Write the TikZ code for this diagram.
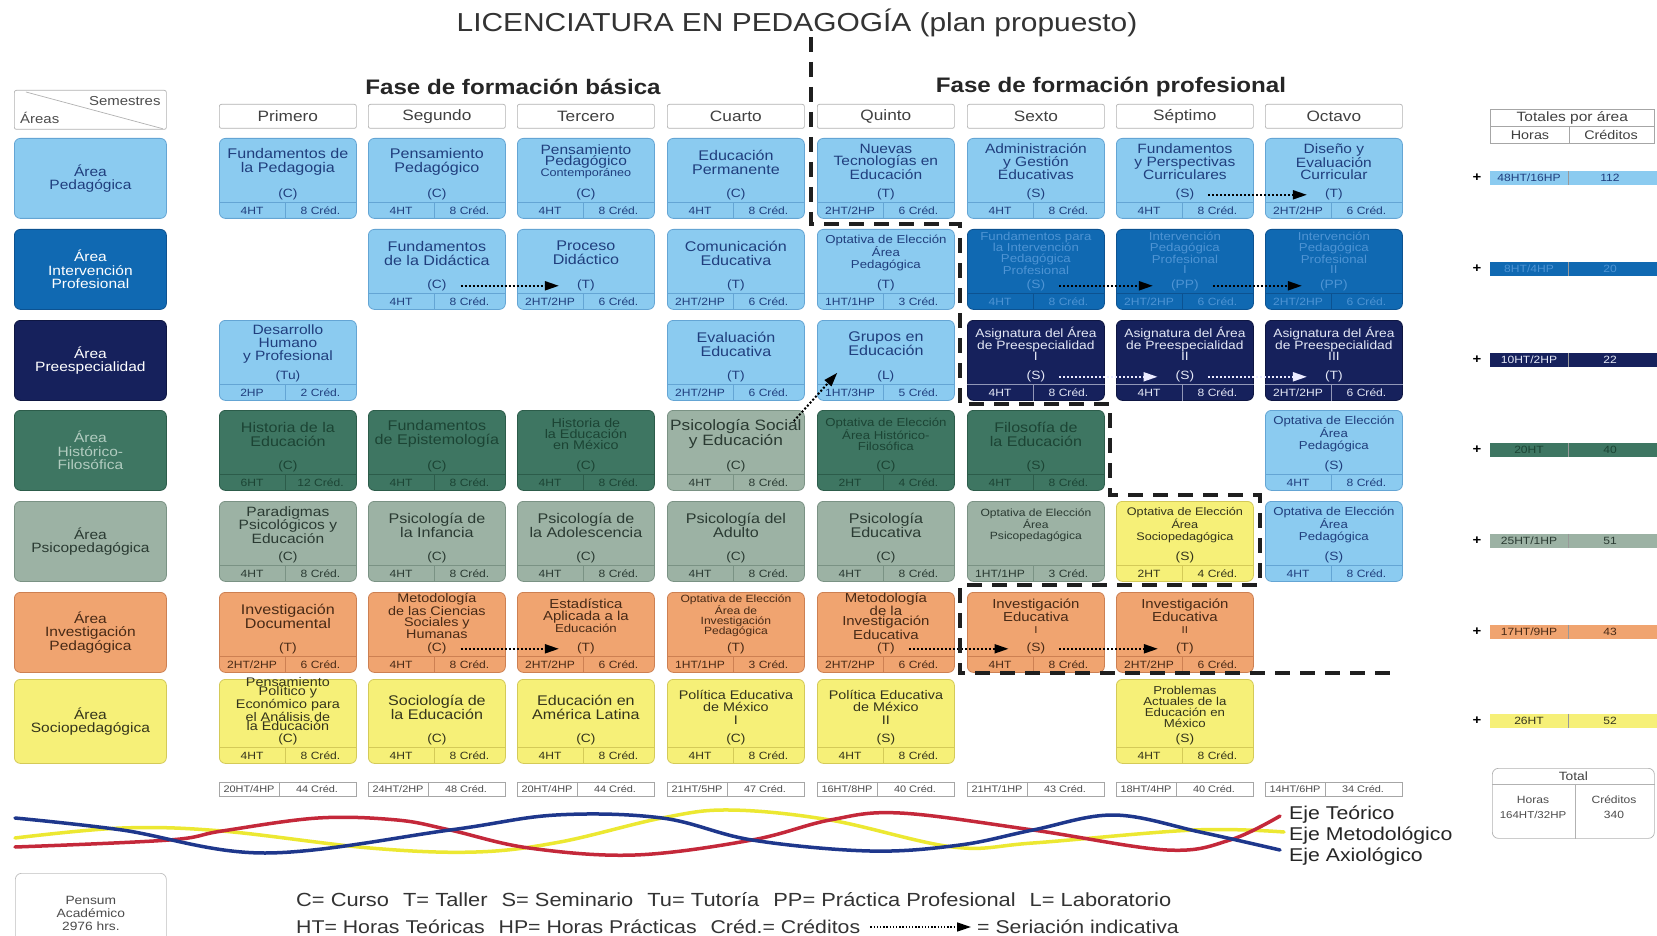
\documentclass[tikz,border=0pt]{standalone}
\usepackage{fontspec}
\setmainfont{Liberation Sans}[FakeStretch=1.15]
\usetikzlibrary{arrows.meta}
\newcommand\fs[2]{\fontsize{#1}{#2}\selectfont}
\definecolor{cped}{RGB}{139,203,240}
\definecolor{cpedD}{RGB}{100,165,212}
\definecolor{tped}{RGB}{32,62,125}
\definecolor{cint}{RGB}{16,105,178}
\definecolor{cintD}{RGB}{12,82,145}
\definecolor{tint}{RGB}{78,148,212}
\definecolor{cpre}{RGB}{22,33,92}
\definecolor{cpreD}{RGB}{14,22,66}
\definecolor{tpre}{RGB}{228,232,246}
\definecolor{chis}{RGB}{62,118,98}
\definecolor{chisD}{RGB}{44,92,74}
\definecolor{thisc}{RGB}{28,68,52}
\definecolor{hisA}{RGB}{178,204,192}
\definecolor{cpsi}{RGB}{156,178,164}
\definecolor{cpsiD}{RGB}{122,146,132}
\definecolor{tpsi}{RGB}{42,58,50}
\definecolor{cinv}{RGB}{240,164,112}
\definecolor{cinvD}{RGB}{205,128,82}
\definecolor{tinv}{RGB}{72,42,22}
\definecolor{csoc}{RGB}{246,240,120}
\definecolor{csocD}{RGB}{212,202,88}
\definecolor{tsoc}{RGB}{52,52,28}
\definecolor{wblue}{RGB}{30,55,140}
\definecolor{wred}{RGB}{196,40,58}
\definecolor{wyel}{RGB}{236,232,50}
\def\boxh{80}
\def\ttly{24}
\tikzset{
  cbox/.style={rounded corners=6pt, line width=0.8pt, minimum width=137pt, minimum height=\boxh pt, anchor=north west, inner sep=0pt},
  ttl/.style={align=center, inner sep=1pt},
  typ/.style={font=\fs{12}{12}, inner sep=1pt},
  hrs/.style={font=\fs{10.5}{10.5}, inner sep=0pt},
  area/.style={rounded corners=6pt, line width=0.8pt, minimum width=152pt, minimum height=80pt, anchor=north west, align=center, font=\fs{13.5}{13.5}, inner sep=1pt},
  ped/.style={fill=cped, draw=cpedD}, pedt/.style={text=tped}, pedl/.style={draw=cpedD, line width=0.8pt},
  int/.style={fill=cint, draw=cintD}, intt/.style={text=tint}, intl/.style={draw=cintD, line width=0.8pt},
  pre/.style={fill=cpre, draw=cpreD}, pret/.style={text=tpre}, prel/.style={draw=tpre!60!cpre, line width=0.8pt},
  his/.style={fill=chis, draw=chisD}, hist/.style={text=thisc}, hisl/.style={draw=chisD, line width=0.8pt},
  psi/.style={fill=cpsi, draw=cpsiD}, psit/.style={text=tpsi}, psil/.style={draw=cpsiD, line width=0.8pt},
  inv/.style={fill=cinv, draw=cinvD}, invt/.style={text=tinv}, invl/.style={draw=cinvD, line width=0.8pt},
  soc/.style={fill=csoc, draw=csocD}, soct/.style={text=tsoc}, socl/.style={draw=csocD, line width=0.8pt},
  sem/.style={draw=black!30, line width=0.7pt, rounded corners=2pt, minimum width=137pt, minimum height=24pt, anchor=north west, font=\fs{15}{15}, text=black!75, inner sep=0pt},
  stb/.style={draw=black!35, line width=0.6pt, minimum width=137pt, minimum height=14pt, anchor=north west, inner sep=0pt},
  stt/.style={font=\fs{9.5}{9.5}, text=black!70, inner sep=0pt},
  bar/.style={minimum width=170pt, minimum height=14pt, anchor=west, inner sep=0pt, draw=none},
  bart/.style={font=\fs{10.5}{10.5}, inner sep=0pt},
  ser/.style={line width=2pt, dash pattern=on 2pt off 2pt, -{Triangle[length=14pt,width=9pt]}, black},
  serx/.style={ser, shorten <=13pt, shorten >=17pt},
  serw/.style={serx, white!92!blue},
  sepline/.style={line width=3.5pt, dash pattern=on 15pt off 10pt, black!88},
  wave/.style={line width=3.5pt, line cap=round},
  lab/.style={font=\fs{18.5}{18.5}, text=black!85, anchor=west, inner sep=0pt}
}
\newcommand\course[9][\fs{14}{14}]{%
  \node[cbox,#5] (b#2) at (#3,#4) {};
  \node[ttl,#5t,font={#1}] (n#2) at ([yshift=-\ttly pt]b#2.north) {#6};
  \node[typ,#5t] (t#2) at ([yshift=24pt]b#2.south) {#7};
  \draw[#5l] ([yshift=16pt]b#2.south west) -- ([yshift=16pt]b#2.south east);
  \draw[#5l] ([xshift=66pt,yshift=16pt]b#2.south west) -- ([xshift=66pt]b#2.south west);
  \node[hrs,#5t] (h#2) at ([xshift=33pt,yshift=8pt]b#2.south west) {#8};
  \node[hrs,#5t] (k#2) at ([xshift=101.5pt,yshift=8pt]b#2.south west) {#9};
}
\newcommand\stot[4]{%
  \node[stb] (st#1) at (#2,782) {};
  \draw[black!35, line width=0.6pt] ([xshift=60pt]st#1.north west) -- ([xshift=60pt]st#1.south west);
  \node[stt] (sh#1) at ([xshift=30pt]st#1.west) {#3};
  \node[stt] (sc#1) at ([xshift=98pt]st#1.west) {#4};
}
\newcommand\atot[5]{%
  \node[font=\bfseries\fs{13}{13}, inner sep=0pt] (pl#1) at (1477,#2) {+};
  \node[bar,#3,draw=none] (p#1) at (1490,#2) {};
  \draw[white!60!black, line width=0.5pt] ([xshift=78pt]p#1.north west) -- ([xshift=78pt]p#1.south west);
  \node[bart,#3t] (ph#1) at ([xshift=39pt]p#1.west) {#4};
  \node[bart,#3t] (pc#1) at ([xshift=120pt]p#1.west) {#5};
}
\begin{document}
\begin{tikzpicture}[x=1pt,y=-1pt]
\useasboundingbox (0,0) rectangle (1657,936);
\fill[white] (0,0) rectangle (1657,936);

% titles
\node[font=\fs{26}{26}, text=black!80] (title) at (797,23) {LICENCIATURA EN PEDAGOGÍA (plan propuesto)};
\node[font=\bfseries\fs{21}{21}, text=black!85] (fb) at (513,87) {Fase de formación básica};
\node[font=\bfseries\fs{21}{21}, text=black!85] (fp) at (1111,87) {Fase de formación profesional};

% corner header
\node[draw=black!30, line width=0.7pt, rounded corners=2pt, minimum width=152pt, minimum height=39pt, anchor=north west, inner sep=0pt] (hdr) at (14,90) {};
\draw[black!30, line width=0.7pt] ([xshift=12pt,yshift=-2pt]hdr.north west) -- ([xshift=-4pt,yshift=1pt]hdr.south east);
\node[font=\fs{13}{13}, text=black!70, anchor=north east, inner sep=0pt] (hs) at ([xshift=-6pt,yshift=-6pt]hdr.north east) {Semestres};
\node[font=\fs{13}{13}, text=black!70, anchor=south west, inner sep=0pt] (ha) at ([xshift=6pt,yshift=6pt]hdr.south west) {Áreas};

% semester headers
\node[sem] (s1) at (219,104) {Primero};
\node[sem] (s2) at (368,104) {Segundo};
\node[sem] (s3) at (517,104) {Tercero};
\node[sem] (s4) at (667,104) {Cuarto};
\node[sem] (s5) at (817,104) {Quinto};
\node[sem] (s6) at (967,104) {Sexto};
\node[sem] (s7) at (1116,104) {Séptimo};
\node[sem] (s8) at (1265,104) {Octavo};

% area labels
\node[area,ped,pedt] (a1) at (14,138) {Área\\Pedagógica};
\node[area,int,text=white] (a2) at (14,229) {Área\\Intervención\\Profesional};
\node[area,pre,text=white] (a3) at (14,320) {Área\\Preespecialidad};
\node[area,his,text=hisA] (a4) at (14,410) {Área\\Histórico-\\Filosófica};
\node[area,psi,psit] (a5) at (14,501) {Área\\Psicopedagógica};
\node[area,inv,invt] (a6) at (14,592) {Área\\Investigación\\Pedagógica};
\node[area,soc,soct,minimum height=84pt] (a7) at (14,679) {Área\\Sociopedagógica};

% row 1
\course{11}{219}{138}{ped}{Fundamentos de\\la Pedagogia}{(C)}{4HT}{8 Créd.}
\course{12}{368}{138}{ped}{Pensamiento\\Pedagógico}{(C)}{4HT}{8 Créd.}
\course[\fs{13.5}{10.5}]{13}{517}{138}{ped}{Pensamiento\\Pedagógico\\{\fs{11}{10.5}Contemporáneo}}{(C)}{4HT}{8 Créd.}
\course{14}{667}{138}{ped}{Educación\\Permanente}{(C)}{4HT}{8 Créd.}
\course[\fs{13.5}{12.5}]{15}{817}{138}{ped}{Nuevas\\Tecnologías en\\Educación}{(T)}{2HT/2HP}{6 Créd.}
\course[\fs{13.5}{12.5}]{16}{967}{138}{ped}{Administración\\y Gestión\\Educativas}{(S)}{4HT}{8 Créd.}
\course[\fs{13.5}{12.5}]{17}{1116}{138}{ped}{Fundamentos\\y Perspectivas\\Curriculares}{(S)}{4HT}{8 Créd.}
\course[\fs{13.5}{12.5}]{18}{1265}{138}{ped}{Diseño y\\Evaluación\\Curricular}{(T)}{2HT/2HP}{6 Créd.}

% row 2
\course{22}{368}{229}{ped}{Fundamentos\\de la Didáctica}{(C)}{4HT}{8 Créd.}
\course{23}{517}{229}{ped}{Proceso\\Didáctico}{(T)}{2HT/2HP}{6 Créd.}
\course{24}{667}{229}{ped}{Comunicación\\Educativa}{(T)}{2HT/2HP}{6 Créd.}
\course[\fs{11.5}{12}]{25}{817}{229}{ped}{Optativa de Elección\\Área\\Pedagógica}{(T)}{1HT/1HP}{3 Créd.}
\course[\fs{11.5}{10.5}]{26}{967}{229}{int}{Fundamentos para\\la Intervención\\Pedagógica\\Profesional}{(S)}{4HT}{8 Créd.}
\course[\fs{11.5}{10.5}]{27}{1116}{229}{int}{Intervención\\Pedagógica\\Profesional\\I}{(PP)}{2HT/2HP}{6 Créd.}
\course[\fs{11.5}{10.5}]{28}{1265}{229}{int}{Intervención\\Pedagógica\\Profesional\\II}{(PP)}{2HT/2HP}{6 Créd.}

% row 3
\course[\fs{13.5}{13}]{31}{219}{320}{ped}{Desarrollo\\Humano\\y Profesional}{(Tu)}{2HP}{2 Créd.}
\course{34}{667}{320}{ped}{Evaluación\\Educativa}{(T)}{2HT/2HP}{6 Créd.}
\course{35}{817}{320}{ped}{Grupos en\\Educación}{(L)}{1HT/3HP}{5 Créd.}
\course[\fs{12}{11.5}]{36}{967}{320}{pre}{Asignatura del Área\\de Preespecialidad\\I}{(S)}{4HT}{8 Créd.}
\course[\fs{12}{11.5}]{37}{1116}{320}{pre}{Asignatura del Área\\de Preespecialidad\\II}{(S)}{4HT}{8 Créd.}
\course[\fs{12}{11.5}]{38}{1265}{320}{pre}{Asignatura del Área\\de Preespecialidad\\III}{(T)}{2HT/2HP}{6 Créd.}

% row 4
\course{41}{219}{410}{his}{Historia de la\\Educación}{(C)}{6HT}{12 Créd.}
\course{42}{368}{410}{his}{Fundamentos\\de Epistemología}{(C)}{4HT}{8 Créd.}
\course[\fs{12.5}{11}]{43}{517}{410}{his}{Historia de\\la Educación\\en México}{(C)}{4HT}{8 Créd.}
\course[\fs{15}{14}]{44}{667}{410}{psi}{Psicología Social\\y Educación}{(C)}{4HT}{8 Créd.}
\course[\fs{11.5}{11}]{45}{817}{410}{his}{Optativa de Elección\\Área Histórico-\\Filosófica}{(C)}{2HT}{4 Créd.}
\course{46}{967}{410}{his}{Filosofía de\\la Educación}{(S)}{4HT}{8 Créd.}
\course[\fs{11.5}{12}]{48}{1265}{410}{ped}{Optativa de Elección\\Área\\Pedagógica}{(S)}{4HT}{8 Créd.}

% row 5
\course[\fs{13.5}{12.5}]{51}{219}{501}{psi}{Paradigmas\\Psicológicos y\\Educación}{(C)}{4HT}{8 Créd.}
\course{52}{368}{501}{psi}{Psicología de\\la Infancia}{(C)}{4HT}{8 Créd.}
\course{53}{517}{501}{psi}{Psicología de\\la Adolescencia}{(C)}{4HT}{8 Créd.}
\course{54}{667}{501}{psi}{Psicología del\\Adulto}{(C)}{4HT}{8 Créd.}
\course{55}{817}{501}{psi}{Psicología\\Educativa}{(C)}{4HT}{8 Créd.}
\course[\fs{10.5}{11}]{56}{967}{501}{psi}{Optativa de Elección\\Área\\Psicopedagógica}{}{1HT/1HP}{3 Créd.}
\course[\fs{11}{11.5}]{57}{1116}{501}{soc}{Optativa de Elección\\Área\\Sociopedagógica}{(S)}{2HT}{4 Créd.}
\course[\fs{11.5}{12}]{58}{1265}{501}{ped}{Optativa de Elección\\Área\\Pedagógica}{(S)}{4HT}{8 Créd.}

% row 6
\course{61}{219}{592}{inv}{Investigación\\Documental}{(T)}{2HT/2HP}{6 Créd.}
\course[\fs{12.5}{10.5}]{62}{368}{592}{inv}{Metodología\\de las Ciencias\\Sociales y\\Humanas}{(C)}{4HT}{8 Créd.}
\course[\fs{13}{12}]{63}{517}{592}{inv}{Estadística\\Aplicada a la\\{\fs{11.5}{12}Educación}}{(T)}{2HT/2HP}{6 Créd.}
\course[\fs{10.5}{10}]{64}{667}{592}{inv}{Optativa de Elección\\Área de\\Investigación\\Pedagógica}{(T)}{1HT/1HP}{3 Créd.}
\course[\fs{13}{10.5}]{65}{817}{592}{inv}{Metodología\\de la\\Investigación\\Educativa}{(T)}{2HT/2HP}{6 Créd.}
\course[\fs{13}{12}]{66}{967}{592}{inv}{Investigación\\Educativa\\{\fs{10}{12}I}}{(S)}{4HT}{8 Créd.}
\course[\fs{13}{12}]{67}{1116}{592}{inv}{Investigación\\Educativa\\{\fs{10}{12}II}}{(T)}{2HT/2HP}{6 Créd.}

% row 7
\def\boxh{84}
\def\ttly{25}
\course[\fs{12.5}{9.6}]{71}{219}{679}{soc}{Pensamiento\\Político y\\Económico para\\el Análisis de\\la Educación}{(C)}{4HT}{8 Créd.}
\def\ttly{28}
\course{72}{368}{679}{soc}{Sociología de\\la Educación}{(C)}{4HT}{8 Créd.}
\course{73}{517}{679}{soc}{Educación en\\América Latina}{(C)}{4HT}{8 Créd.}
\course[\fs{12.5}{12.5}]{74}{667}{679}{soc}{Política Educativa\\de México\\I}{(C)}{4HT}{8 Créd.}
\course[\fs{12.5}{12.5}]{75}{817}{679}{soc}{Política Educativa\\de México\\II}{(S)}{4HT}{8 Créd.}
\course[\fs{11.5}{11}]{77}{1116}{679}{soc}{Problemas\\Actuales de la\\Educación en\\México}{(S)}{4HT}{8 Créd.}

% seriation arrows
\draw[serx] (t17.east) -- (t18.west);
\draw[serx] (t22.east) -- (t23.west);
\draw[serx] (t26.east) -- (t27.west);
\draw[serx] (t27.east) -- (t28.west);
\draw[serw] (t36.east) -- (t37.west);
\draw[serw] (t37.east) -- (t38.west);
\draw[serx] (t62.east) -- (t63.west);
\draw[serx] (t65.east) -- (t66.west);
\draw[serx] (t66.east) -- (t67.west);
\draw[ser] ([shift={(-9pt,-3pt)}]n44.north east) -- ([shift={(-39pt,4pt)}]t35.west);

% phase separator
\draw[sepline] (811,37) -- (811,224) -- (960,224) -- (960,404) -- (1110,404) -- (1110,495) -- (1260,495) -- (1260,585) -- (960,585) -- (960,673) -- (1395,673);

% semester totals
\stot{1}{219}{20HT/4HP}{44 Créd.}
\stot{2}{368}{24HT/2HP}{48 Créd.}
\stot{3}{517}{20HT/4HP}{44 Créd.}
\stot{4}{667}{21HT/5HP}{47 Créd.}
\stot{5}{817}{16HT/8HP}{40 Créd.}
\stot{6}{967}{21HT/1HP}{43 Créd.}
\stot{7}{1116}{18HT/4HP}{40 Créd.}
\stot{8}{1265}{14HT/6HP}{34 Créd.}

% area totals
\node[draw=black!35, line width=0.7pt, minimum width=164pt, minimum height=34pt, anchor=north west, inner sep=0pt] (th) at (1490,109) {};
\draw[black!35, line width=0.7pt] (th.west) -- (th.east);
\draw[black!35, line width=0.7pt] ([xshift=79pt]th.west) -- ([xshift=79pt]th.south west);
\node[font=\fs{13.5}{13.5}, text=black!75, inner sep=0pt] (thl) at ([yshift=-8.5pt]th.north) {Totales por área};
\node[font=\fs{12.5}{12.5}, text=black!75, inner sep=0pt] (thh) at ([xshift=40pt,yshift=8.5pt]th.south west) {Horas};
\node[font=\fs{12.5}{12.5}, text=black!75, inner sep=0pt] (thc) at ([xshift=121pt,yshift=8.5pt]th.south west) {Créditos};
\atot{1}{178}{ped}{48HT/16HP}{112}
\atot{2}{269}{int}{8HT/4HP}{20}
\atot{3}{360}{pre}{10HT/2HP}{22}
\atot{4}{450}{his}{20HT}{40}
\atot{5}{541}{psi}{25HT/1HP}{51}
\atot{6}{632}{inv}{17HT/9HP}{43}
\atot{7}{721}{soc}{26HT}{52}

% grand total
\node[draw=black!30, line width=0.7pt, rounded corners=6pt, minimum width=162pt, minimum height=70pt, anchor=north west, inner sep=0pt] (tot) at (1492,768) {};
\draw[black!30, line width=0.7pt] ([yshift=-16pt]tot.north west) -- ([yshift=-16pt]tot.north east);
\draw[black!30, line width=0.7pt] ([xshift=83pt,yshift=-16pt]tot.north west) -- ([xshift=83pt]tot.south west);
\node[font=\fs{12}{12}, text=black!75, inner sep=0pt] (totl) at ([yshift=-8pt]tot.north) {Total};
\node[font=\fs{10.5}{10.5}, text=black!70, inner sep=0pt] (toth) at ([xshift=41pt,yshift=-32pt]tot.north west) {Horas};
\node[font=\fs{10}{10}, text=black!70, inner sep=0pt] (tothv) at ([xshift=41pt,yshift=-47pt]tot.north west) {164HT/32HP};
\node[font=\fs{10.5}{10.5}, text=black!70, inner sep=0pt] (totc) at ([xshift=122pt,yshift=-32pt]tot.north west) {Créditos};
\node[font=\fs{10.5}{10.5}, text=black!70, inner sep=0pt] (totcv) at ([xshift=122pt,yshift=-47pt]tot.north west) {340};

% axes waves
\draw[wave, wyel] plot[smooth, tension=0.6] coordinates {(15,838) (122,828) (222,831) (370,848) (476,852) (560,842) (662,818) (730,810) (830,820) (953,847) (1033,843) (1194,830) (1284,832)};
\draw[wave, wred] plot[smooth, tension=0.6] coordinates {(15,847) (169,840) (222,831) (318,818) (397,820) (450,830) (529,848) (635,855) (752,840) (830,820) (900,813) (1033,830) (1167,850) (1230,840) (1280,816)};
\draw[wave, wblue] plot[smooth, tension=0.6] coordinates {(15,818) (122,830) (265,853) (450,830) (556,815) (662,818) (752,840) (870,851) (960,845) (1033,830) (1114,815) (1200,832) (1280,850)};
\node[lab] (e1) at (1289,815) {Eje Teórico};
\node[lab] (e2) at (1289,836) {Eje Metodológico};
\node[lab] (e3) at (1289,857) {Eje Axiológico};

% pensum
\node[draw=black!25, line width=0.7pt, rounded corners=6pt, minimum width=151pt, minimum height=80pt, anchor=north west, align=center, font=\fs{12}{13}, text=black!70] (pen) at (15,873) {Pensum\\Académico\\2976 hrs.};

% legend
\node[lab, text=black!80, font=\fs{19}{19}] (lg1) at (296,900) {C= Curso\hspace{8pt} T= Taller\hspace{8pt} S= Seminario\hspace{8pt} Tu= Tutoría\hspace{8pt} PP= Práctica Profesional\hspace{8pt} L= Laboratorio};
\node[lab, text=black!80] (lg2) at (296,927) {HT= Horas Teóricas\hspace{8pt} HP= Horas Prácticas\hspace{8pt} Créd.= Créditos};
\node[lab, text=black!80] (lg3) at (977,927) {= Seriación indicativa};
\draw[ser, line width=1.4pt, dash pattern=on 1.4pt off 1.8pt, shorten <=10pt, shorten >=6pt] (lg2.east) -- (lg3.west);
\end{tikzpicture}
\end{document}
